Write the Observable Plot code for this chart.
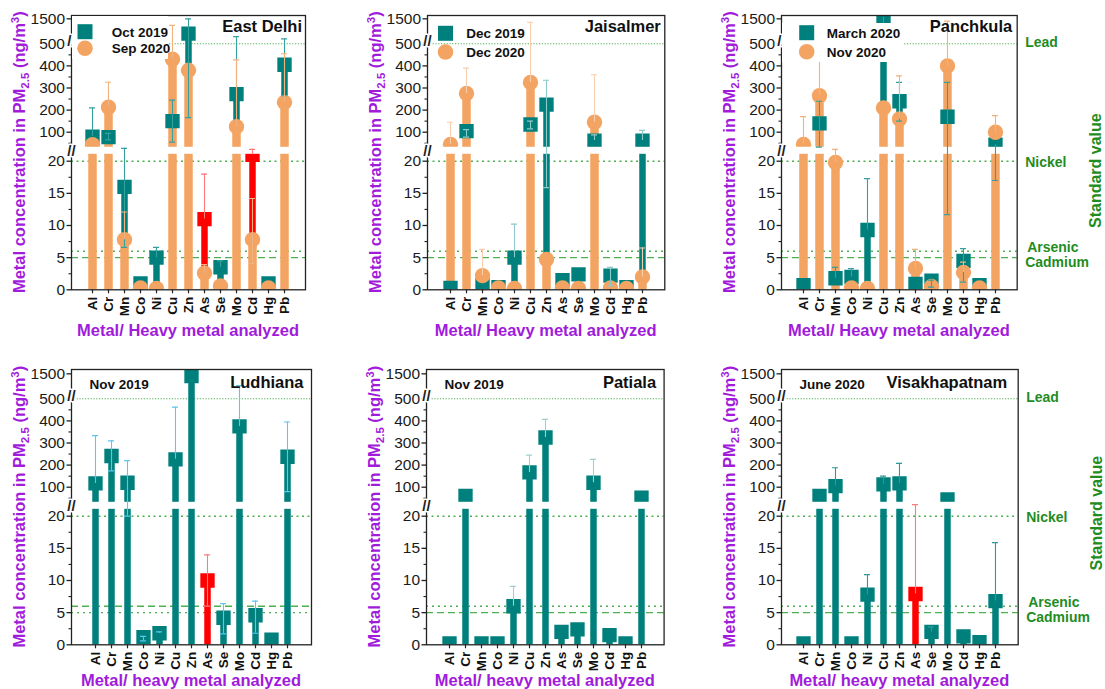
<!DOCTYPE html>
<html><head><meta charset="utf-8">
<script src="https://cdn.jsdelivr.net/npm/d3@7"></script>
<script src="https://cdn.jsdelivr.net/npm/@observablehq/plot@0.6"></script>
<style>
body{margin:0;background:#fff;}
#wrap{position:relative;width:1105px;height:689px;overflow:hidden;background:#fff;font-family:"Liberation Sans",Arial,sans-serif;}
#wrap svg{position:absolute;overflow:visible;}
</style></head><body><div id="wrap"></div>
<script>
// ---------------- DATA ----------------
const metals = ["Al","Cr","Mn","Co","Ni","Cu","Zn","As","Se","Mo","Cd","Hg","Pb"];

// East Delhi
const delhiOct2019   = [80, 78, 16, 1, 5, 150, 810, 11, 3.5, 272, 21, 1, 405];
const delhiOct2019Hi = [210, 95, 22, null, 6.6, 245, 1500, 18, 4.5, 670, 22.3, null, 565];
const delhiOct2019Lo = [null, 65, 6.6, null, null, 55, 166, null, null, null, null, null, 265];
const delhiSep2020   = [44, 213, 7.8, 0.3, 0.2, 430, 380, 2.6, 0.6, 125, 7.8, 0.3, 235];
const delhiSep2020Hi = [null, 326, 12.1, null, null, 1190, null, 3.9, null, 427, 14.2, null, 455];
const delhiSep2020Lo = [null, null, null, null, null, null, null, null, null, null, 4.1, null, null];
const delhiRed = ["As", "Cd"];

// Jaisalmer
const jaisDec2019   = [0.3, 105, 0.7, 0.4, 5, 135, 225, 1.5, 2.4, 62, 2.2, 0.4, 62];
const jaisDec2019Hi = [null, 112, null, null, 10.2, 150, 335, null, null, 88, 3.5, null, 108];
const jaisDec2019Lo = [null, 78, null, null, null, 115, 15.9, null, null, null, 0.6, null, null];
const jaisDec2020   = [45, 275, 2.2, 0.3, 0.2, 325, 4.7, 0.3, 0.2, 145, 0.3, 0.2, 2];
const jaisDec2020Hi = [145, 390, 6.3, null, null, 1340, null, null, null, 360, null, null, 6.5];
const jaisDec2020Lo = [null, null, null, null, null, null, null, null, null, null, null, null, null];

// Panchkula
const panchMar2020   = [0.7, 140, 1.8, 2.0, 9.3, 1590, 240, 0.9, 1.4, 170, 4.5, 0.7, 43];
const panchMar2020Hi = [null, 240, 3.5, 3.3, 17.3, null, 325, null, 1.5, 325, 6.4, null, null];
const panchMar2020Lo = [null, 32, null, null, null, 420, 150, null, 0.4, 11.7, 1.2, null, 17];
const panchNov2020   = [45, 265, 19.8, 0.3, 0.2, 210, 160, 3.3, 0.5, 400, 2.7, 0.3, 100];
const panchNov2020Hi = [170, 420, 22.3, null, null, null, 355, 6.3, null, 1390, 4.3, null, 175];
const panchNov2020Lo = [null, null, null, null, null, null, null, null, null, null, null, null, null];

// Ludhiana
const ludhNov2019   = [117, 241, 120, 1.2, 1.8, 226, 1400, 10, 4.2, 375, 4.6, 0.8, 238];
const ludhNov2019Hi = [333, 310, 220, 1.3, 2.0, 462, null, 14, 6.4, 950, 6.8, null, 395];
const ludhNov2019Lo = [null, 174, 20, 0.6, null, null, null, 6, 1.7, null, 1.8, null, 80];
const ludhRed = ["As"];

// Patiala
const patNov2019   = [0.2, 61, 0.2, 0.2, 6.0, 167, 325, 2.0, 2.4, 120, 1.5, 0.2, 53];
const patNov2019Hi = [null, null, null, null, 9.1, 245, 407, null, null, 226, null, null, null];
const patNov2019Lo = [null, null, null, null, null, null, null, null, null, null, null, null, null];

// Visakhapatnam
const vizJun2020   = [0.2, 60, 105, 0.2, 7.8, 113, 117, 7.9, 2.0, 45, 1.3, 0.4, 6.8];
const vizJun2020Hi = [null, null, 188, null, 10.9, 150, 208, 21.8, 2.8, null, null, null, 15.9];
const vizJun2020Lo = [null, null, null, null, null, null, null, null, null, null, null, null, null];
const vizRed = ["As"];

// axis ticks and reference standards
const yTickValues = [0, 5, 10, 15, 20, 100, 200, 300, 400, 500, 1500];
const yMinorValues = [2.5, 7.5, 12.5, 17.5, 50, 150, 250, 350, 450];
const standardNames = ["Lead", "Nickel", "Arsenic", "Cadmium"];
const standardValues = [500, 20, 6, 5];

// ---------------- BROKEN AXIS MAPPING ----------------
// value -> display units (px above baseline): 0–22 | 22–518 | 518+
function dpos(v) {
  if (v <= 22) return v * 6.43;
  if (v <= 518) return 157.6 + (v - 100) * 0.221;
  return 157.6 + 418 * 0.221 + (v - 518) * 0.02138;
}
const GAP = [135.5, 142.5];

// ---------------- STYLE ----------------
const TEAL = "#00807c", ORANGE = "#f4a462", RED = "#ff0000";
const PURPLE = "#a11bdb", GREEN_TEXT = "#1f8c1f", LINE_GREEN = "#4caf50";
const FONT = "Liberation Sans, Arial, sans-serif";
const wrap = document.getElementById("wrap");

function mkRows(values, hi, lo, redList) {
  return metals.map((m, i) => {
    const v = values[i];
    const eHi = hi[i] == null ? v : hi[i];
    const eLo = lo[i] == null ? v : lo[i];
    return {metal: m, d: dpos(v), eHi: dpos(eHi), eLo: dpos(eLo),
      hasHi: hi[i] != null, hasLo: lo[i] != null, red: (redList || []).includes(m)};
  });
}

function drawPanel(p) {
  const mL = 71;
  const mT = p.frameTop - p.svgTop;
  const mB = p.svgH - (p.frameBottom - p.svgTop);
  const dTop = p.frameBottom - p.frameTop;
  const step = 16.9;
  const po = (p.frameW / step - 13) / 2;
  const width = mL + p.frameW + p.mR;

  const marks = [];
  // standard lines
  standardValues.forEach((v, k) => marks.push(
    Plot.ruleY([dpos(v)], {y: d => d, stroke: LINE_GREEN, strokeWidth: k === 0 ? 1.1 : 1.4, strokeDasharray: p.dash[k]})));

  const rows = p.series.map(s => mkRows(s.values, s.hi, s.lo, s.red));
  // bars
  p.series.forEach((s, si) => marks.push(Plot.ruleX(rows[si], {
    x: "metal", y1: 0, y2: "d", stroke: d => d.red ? RED : s.color, strokeWidth: s.barW, clip: true})));
  // markers
  p.series.forEach((s, si) => marks.push(Plot.dot(rows[si], {
    x: "metal", y: "d", symbol: s.symbol, r: s.symbol === "square" ? 8.1 : 7.7,
    fill: d => d.red ? RED : s.color, clip: true})));
  // axis break gap
  marks.push(Plot.rect([GAP], {y1: d => d[0], y2: d => d[1], fill: "white"}));
  // error bars
  p.series.forEach((s, si) => {
    const ec = d => d.red ? "#ff7a7a" : s.errColor;
    marks.push(Plot.ruleX(rows[si].filter(d => d.eHi > d.eLo), {x: "metal", y1: "eLo", y2: "eHi", stroke: ec, strokeWidth: 1.1, clip: true}));
    marks.push(Plot.tickY(rows[si].filter(d => d.hasHi), {x: "metal", y: "eHi", stroke: ec, strokeWidth: 1.2, insetLeft: 5, insetRight: 5, clip: true}));
    marks.push(Plot.tickY(rows[si].filter(d => d.hasLo), {x: "metal", y: "eLo", stroke: ec, strokeWidth: 1.2, insetLeft: 5, insetRight: 5, clip: true}));
  });
  marks.push(Plot.frame({stroke: "#222", strokeWidth: 1.3}));
  // axes
  const tickLabel = new Map(yTickValues.map(v => [dpos(v), String(v)]));
  marks.push(Plot.axisY(yTickValues.map(dpos), {tickSize: 4.5, tickPadding: 2, tickFormat: d => tickLabel.get(d), fontSize: 15.5, label: null, strokeWidth: 1.3, fill: "#1a1a1a"}));
  marks.push(Plot.axisY(yMinorValues.map(dpos), {tickSize: 2.5, tickFormat: () => "", label: null, strokeWidth: 1.1}));
  marks.push(Plot.axisX({tickRotate: -90, tickSize: 4, tickPadding: 3, fontSize: 13.5, fontWeight: "bold", label: null, strokeWidth: 1.2, fill: "#111"}));
  // break marks
  marks.push(Plot.text([(GAP[0] + GAP[1]) / 2, dpos(518) - 1.5], {y: d => d, text: () => "//", frameAnchor: "left", textAnchor: "middle",
    fontSize: 15, fontWeight: "bold", fill: "#222", stroke: "white", strokeWidth: 3}));
  // title
  marks.push(Plot.text([p.title], {text: d => d, frameAnchor: "top-right", textAnchor: "end", lineAnchor: "top",
    dx: p.titleDx, dy: p.titleDy, fontSize: 16.5, fontWeight: "bold", fill: "#111"}));
  if (p.date) marks.push(Plot.text([p.date], {text: d => d, frameAnchor: "top-left", textAnchor: "start", lineAnchor: "top",
    dx: 18, dy: 10, fontSize: 13.5, fontWeight: "bold", fill: "#111"}));
  if (p.std) {
    const ldy = [-1, 1, -4, 5], ldx = [8, 8, 10, 8];
    standardValues.forEach((v, k) => marks.push(Plot.text([k], {y: () => dpos(v), text: () => standardNames[k],
      frameAnchor: "right", textAnchor: "start", dx: ldx[k], dy: ldy[k], fill: GREEN_TEXT, fontSize: 14, fontWeight: "bold"})));
    marks.push(Plot.text(["Standard value"], {text: d => d, frameAnchor: "right", textAnchor: "middle", dx: 79, dy: p.svDy, rotate: -90,
      fill: GREEN_TEXT, fontSize: 16, fontWeight: "bold"}));
  }

  const svg = Plot.plot({
    width, height: p.svgH, marginLeft: mL, marginRight: p.mR, marginTop: mT, marginBottom: mB,
    x: {type: "band", domain: metals, paddingInner: 0, paddingOuter: po, align: 0.5},
    y: {type: "linear", domain: [0, dTop]},
    color: {type: "identity"},
    style: {fontFamily: FONT, background: "transparent", overflow: "visible", color: "#222"},
    marks
  });
  svg.style.left = (p.frameLeft - mL) + "px";
  svg.style.top = p.svgTop + "px";
  wrap.appendChild(svg);

  const s = d3.select(svg);
  const fb = p.frameBottom - p.svgTop, ft = mT;
  // y label with sub/superscript
  const yl = s.append("text").attr("transform", `translate(${mL - 51.5},${(ft + fb) / 2}) rotate(-90)`)
    .attr("text-anchor", "middle").attr("dy", "0.35em").attr("fill", PURPLE)
    .attr("font-size", 16.5).attr("font-weight", "bold").attr("font-family", FONT);
  yl.append("tspan").text("Metal concentration in PM");
  yl.append("tspan").attr("font-size", 11.5).attr("dy", 4).text("2.5");
  yl.append("tspan").attr("dy", -4).text(" (ng/m");
  yl.append("tspan").attr("font-size", 11.5).attr("dy", -6).text("3");
  yl.append("tspan").attr("dy", 6).text(")");
  // x label
  s.append("text").attr("x", mL + p.frameW / 2).attr("y", fb + p.xlabOff).attr("dy", "0.35em")
    .attr("text-anchor", "middle").attr("fill", PURPLE).attr("font-size", 16.5).attr("font-weight", "bold")
    .attr("font-family", FONT).text(p.xlabel);
  // legend
  if (p.legend) {
    const L = p.legend, g = s.append("g").attr("font-family", FONT).attr("text-anchor", "start");
    if (L.bg) g.append("rect").attr("x", mL + 1).attr("y", ft + L.bg[2]).attr("width", L.bg[0]).attr("height", L.bg[1]).attr("fill", "white");
    g.append("rect").attr("x", mL + L.sx - 7.5).attr("y", ft + L.r1 - 7.5).attr("width", 15).attr("height", 15).attr("fill", TEAL);
    g.append("circle").attr("cx", mL + L.sx).attr("cy", ft + L.r2).attr("r", 7.8).attr("fill", ORANGE);
    [[p.series[0].name, L.r1], [p.series[1].name, L.r2]].forEach(([t, ry]) =>
      g.append("text").attr("x", mL + L.tx).attr("y", ft + ry).attr("dy", "0.36em").attr("font-size", 13.5)
        .attr("font-weight", "bold").attr("fill", "#111").text(t));
  }
}

const topDash = ["1.2,1.6", "2,3.5", "2,4", "7,4"];
const ludhDash = ["1.2,1.6", "2,3.5", "7,4", "2,4"];
const TOP = {svgTop: 0, svgH: 345, frameTop: 15, frameBottom: 289.3, xlabOff: 40.7, xlabel: "Metal/ Heavy metal analyzed"};
const BOT = {svgTop: 350, svgH: 339, frameTop: 369, frameBottom: 644.3, xlabOff: 35.7, xlabel: "Metal/ heavy metal analyzed"};

drawPanel({...TOP, frameLeft: 71, frameW: 234, mR: 20, title: "East Delhi", titleDx: -3.5, titleDy: 5, dash: topDash,
  legend: {sx: 14, r1: 16.7, r2: 33.3, tx: 40.7, bg: [96, 43, 1]},
  series: [
    {name: "Oct 2019", values: delhiOct2019, hi: delhiOct2019Hi, lo: delhiOct2019Lo, red: delhiRed, color: TEAL, symbol: "square", barW: 6.5, errColor: "#35a0a0"},
    {name: "Sep 2020", values: delhiSep2020, hi: delhiSep2020Hi, lo: delhiSep2020Lo, color: ORANGE, symbol: "circle", barW: 8.5, errColor: "#f2b27e"}]});

drawPanel({...TOP, frameLeft: 426.7, frameW: 237.3, mR: 20, title: "Jaisalmer", titleDx: -4, titleDy: 5, dash: topDash,
  legend: {sx: 18.5, r1: 18.3, r2: 37, tx: 39.3},
  series: [
    {name: "Dec 2019", values: jaisDec2019, hi: jaisDec2019Hi, lo: jaisDec2019Lo, color: TEAL, symbol: "square", barW: 6.5, errColor: "#8fc9c9"},
    {name: "Dec 2020", values: jaisDec2020, hi: jaisDec2020Hi, lo: jaisDec2020Lo, color: ORANGE, symbol: "circle", barW: 8.5, errColor: "#f8cfae"}]});

drawPanel({...TOP, frameLeft: 781, frameW: 235.7, mR: 88, title: "Panchkula", titleDx: -5, titleDy: 5, dash: topDash, std: true, svDy: 18,
  legend: {sx: 25.7, r1: 17.7, r2: 36.7, tx: 45.7, bg: [121, 39, 8]},
  series: [
    {name: "March 2020", values: panchMar2020, hi: panchMar2020Hi, lo: panchMar2020Lo, color: TEAL, symbol: "square", barW: 6.5, errColor: "#35a0a0"},
    {name: "Nov 2020", values: panchNov2020, hi: panchNov2020Hi, lo: panchNov2020Lo, color: ORANGE, symbol: "circle", barW: 8.5, errColor: "#f2b27e"}]});

drawPanel({...BOT, frameLeft: 71, frameW: 240, mR: 20, title: "Ludhiana", titleDx: -8, titleDy: 7, date: "Nov 2019", dash: ludhDash,
  series: [{name: "Nov 2019", values: ludhNov2019, hi: ludhNov2019Hi, lo: ludhNov2019Lo, red: ludhRed, color: TEAL, symbol: "square", barW: 6.5, errColor: "#5bc5f5"}]});

drawPanel({...BOT, frameLeft: 425.7, frameW: 237.6, mR: 20, title: "Patiala", titleDx: -8, titleDy: 7, date: "Nov 2019", dash: topDash,
  series: [{name: "Nov 2019", values: patNov2019, hi: patNov2019Hi, lo: patNov2019Lo, color: TEAL, symbol: "square", barW: 6.5, errColor: "#9fd0d0"}]});

drawPanel({...BOT, frameLeft: 781, frameW: 236.7, mR: 88, title: "Visakhapatnam", titleDx: -11, titleDy: 7, date: "June 2020", dash: topDash, std: true, svDy: 6,
  series: [{name: "June 2020", values: vizJun2020, hi: vizJun2020Hi, lo: vizJun2020Lo, red: vizRed, color: TEAL, symbol: "square", barW: 6.5, errColor: "#2f9999"}]});
</script></body></html>
